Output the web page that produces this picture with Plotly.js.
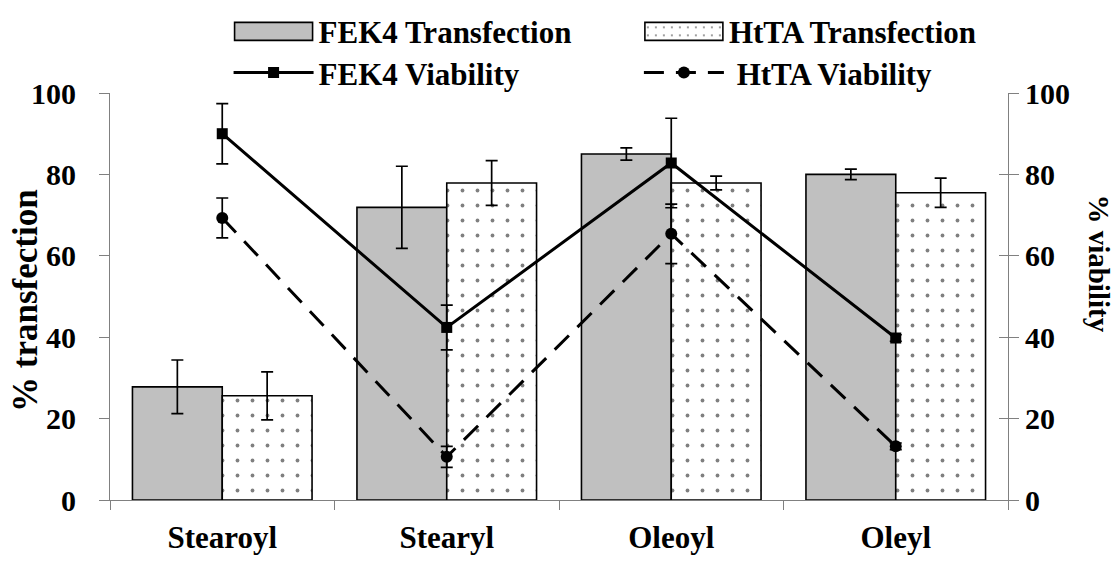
<!DOCTYPE html>
<html>
<head>
<meta charset="utf-8">
<script src="https://cdn.plot.ly/plotly-3.0.1.min.js"></script>
<style>html,body{margin:0;padding:0;background:#fff;}#chart{width:1115px;height:561px;}</style>
</head>
<body>
<div id="chart"></div>
<script>
// ---- data ----
var categories = ["Stearoyl", "Stearyl", "Oleoyl", "Oleyl"];
var fek4Transfection = [27.8, 71.9, 85.0, 80.0];
var fek4TransfectionErr = [6.6, 10.1, 1.5, 1.3];
var htaTransfection = [25.6, 77.9, 77.9, 75.5];
var htaTransfectionErr = [5.9, 5.5, 1.7, 3.6];
var fek4Viability = [90.0, 42.4, 82.8, 39.8];
var fek4ViabilityErr = [7.4, 5.5, 11.0, 0.8];
var htaViability = [69.3, 10.6, 65.4, 13.2];
var htaViabilityErr = [4.9, 2.6, 7.3, 0.8];
var yTicks = [0, 20, 40, 60, 80, 100];
var seriesNames = ["FEK4 Transfection", "HtTA Transfection", "FEK4 Viability", "\u00a0HtTA Viability"];
var leftTitle = "% transfection";
var rightTitle = "% viability";

var FONT = "Liberation Serif, Times New Roman, serif";
function b(s) { return "<b>" + s + "</b>"; }

var traces = [
  {
    type: "bar", name: b(seriesNames[0]), x: categories, y: fek4Transfection,
    marker: {color: "#c0c0c0", line: {color: "#000", width: 1.6}},
    error_y: {type: "data", array: fek4TransfectionErr, visible: true, color: "#000", thickness: 1.7, width: 6},
    legend: "legend"
  },
  {
    type: "bar", name: b(seriesNames[1]), x: categories, y: htaTransfection,
    marker: {color: "#fff", line: {color: "#000", width: 1.6},
      pattern: {shape: ".", fgcolor: "#000", bgcolor: "#fff", size: 15, solidity: 0.05, fillmode: "overlay"}},
    error_y: {type: "data", array: htaTransfectionErr, visible: true, color: "#000", thickness: 1.7, width: 6},
    legend: "legend2"
  },
  {
    type: "scatter", mode: "lines+markers", name: b(seriesNames[2]), x: categories, y: fek4Viability, yaxis: "y2",
    line: {color: "#000", width: 3},
    marker: {symbol: "square", size: 11, color: "#000"},
    error_y: {type: "data", array: fek4ViabilityErr, visible: true, color: "#000", thickness: 1.7, width: 6},
    legend: "legend3"
  },
  {
    type: "scatter", mode: "lines+markers", name: b(seriesNames[3]), x: categories, y: htaViability, yaxis: "y2",
    line: {color: "#000", width: 3, dash: "20px,12px"},
    marker: {symbol: "circle", size: 12, color: "#000"},
    error_y: {type: "data", array: htaViabilityErr, visible: true, color: "#000", thickness: 1.7, width: 6},
    legend: "legend4"
  },
  // helper on a third axis: draws only the inner half of the right-axis ticks
  {type: "scatter", x: categories, y: fek4Viability, yaxis: "y3", mode: "none", hoverinfo: "skip", showlegend: false}
];

function legendAt(x, y) {
  return {
    orientation: "h", xref: "container", yref: "container", x: x, y: y, xanchor: "left", yanchor: "middle",
    itemwidth: 80, font: {family: FONT, size: 31, color: "#000"}, bgcolor: "rgba(0,0,0,0)", borderwidth: 0
  };
}

var tickText = yTicks.map(function (v) { return b(v); });

var layout = {
  width: 1115, height: 561,
  margin: {l: 110, r: 107, t: 93, b: 61, autoexpand: false},
  paper_bgcolor: "#fff", plot_bgcolor: "#fff",
  font: {family: FONT, color: "#000", size: 30},
  barmode: "group", bargap: 0.2, bargroupgap: 0,
  showlegend: true,
  legend: legendAt(0.205, 0.9435),
  legend2: legendAt(0.573, 0.9435),
  legend3: legendAt(0.205, 0.870),
  legend4: legendAt(0.573, 0.870),
  xaxis: {
    type: "category", tickson: "boundaries", ticks: "outside", ticklen: 9, tickcolor: "#808080", tickwidth: 1,
    showline: true, linecolor: "#808080", linewidth: 1, showgrid: false, zeroline: false,
    tickfont: {family: FONT, size: 31, color: "#000"}, ticklabelstandoff: 10,
    tickvals: categories, ticktext: categories.map(b)
  },
  yaxis: {
    range: [0, 100], tickvals: yTicks, ticktext: tickText, ticks: "outside", ticklen: 10, tickcolor: "#808080",
    showline: true, linecolor: "#808080", linewidth: 1, showgrid: false, zeroline: false,
    tickfont: {family: FONT, size: 30, color: "#000"}, ticklabelstandoff: 17
  },
  yaxis2: {
    range: [0, 100], tickvals: yTicks, ticktext: tickText, ticks: "outside", ticklen: 10, tickcolor: "#808080",
    overlaying: "y", side: "right", anchor: "x",
    showline: true, linecolor: "#808080", linewidth: 1, showgrid: false, zeroline: false,
    tickfont: {family: FONT, size: 30, color: "#000"}, ticklabelstandoff: 0
  },
  yaxis3: {
    range: [0, 100], tickvals: yTicks, showticklabels: false, ticks: "inside", ticklen: 9, tickcolor: "#808080",
    overlaying: "y", side: "right", anchor: "x", showline: false, showgrid: false, zeroline: false
  },
  annotations: [
    {text: b(leftTitle), textangle: -90, xref: "paper", yref: "paper", x: -0.0947, y: 0.4914,
     xanchor: "center", yanchor: "middle", showarrow: false, font: {family: FONT, size: 35, color: "#000"}},
    {text: b(rightTitle), textangle: 90, xref: "paper", yref: "paper", x: 1.101, y: 0.582,
     xanchor: "center", yanchor: "middle", showarrow: false, font: {family: FONT, size: 29, color: "#000"}}
  ]
};

var gd = document.getElementById("chart");
Plotly.newPlot(gd, traces, layout, {displayModeBar: false, staticPlot: true}).then(function () {
  // widen the bar swatches in the legends to match the long rectangles of the original
  gd.querySelectorAll(".legendpoints path").forEach(function (p) {
    var d = p.getAttribute("d") || "";
    if (d.indexOf("H-6V-6") >= 0) p.setAttribute("d", "M39,9H-39V-9H39Z");
  });
});
</script>
</body>
</html>
